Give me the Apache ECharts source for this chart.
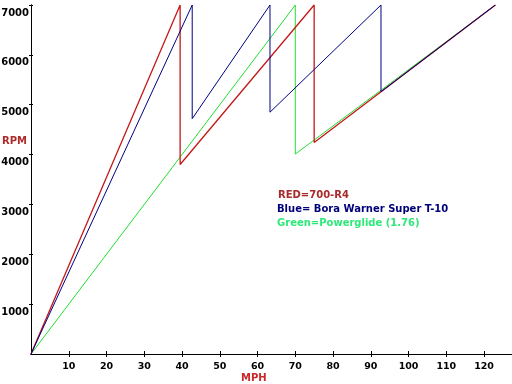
<!DOCTYPE html>
<html>
<head>
<meta charset="utf-8">
<script src="https://cdn.jsdelivr.net/npm/echarts@6/dist/echarts.min.js"></script>
<style>
html,body{margin:0;padding:0;background:#fff;}
#chart{width:512px;height:384px;}
</style>
</head>
<body>
<div id="chart"></div>
<script>
// Data
const redMph   = [0, 39.5, 39.5, 75, 75, 123];
const redRpm   = [0, 7000, 3800, 7000, 4240, 7000];
const blueMph  = [0, 42.7, 42.7, 63.3, 63.3, 92.7, 92.7, 123];
const blueRpm  = [0, 7000, 4720, 7000, 4850, 7000, 5260, 7000];
const greenMph = [0, 70, 70, 123];
const greenRpm = [0, 7000, 4010, 7000];
const xTicks = [10, 20, 30, 40, 50, 60, 70, 80, 90, 100, 110, 120];
const yTicks = [1000, 2000, 3000, 4000, 5000, 6000, 7000];
const legendLines = ['RED=700-R4', 'Blue= Bora Warner Super T-10', 'Green=Powerglide (1.76)'];

const pairs = (xs, ys) => xs.map((x, i) => [x, ys[i]]);

const chart = echarts.init(document.getElementById('chart'), null, {renderer: 'canvas'});

const FONT = 'DejaVu Sans';
const baseX = {
  type: 'value', min: 0, max: 127.4, interval: 10,
  axisLine: {show: true, onZero: false, lineStyle: {color: '#000', width: 1}},
  splitLine: {show: false}
};
const baseY = {
  type: 'value', min: 0, max: 7000, interval: 1000,
  axisLine: {show: true, onZero: false, lineStyle: {color: '#000', width: 1}},
  splitLine: {show: false}
};

chart.setOption({
  animation: false,
  backgroundColor: '#fff',
  grid: {left: 31, top: 5, right: 0, bottom: 30, containLabel: false, outerBoundsMode: 'none'},
  xAxis: [
    Object.assign({}, baseX, {
      position: 'bottom',
      axisTick: {show: true, inside: false, length: 3, lineStyle: {color: '#000'}, customValues: xTicks},
      axisLabel: {
        show: true, color: '#000', fontFamily: FONT, fontWeight: 'bold', fontSize: 9.5, margin: 8,
        customValues: xTicks,
        formatter: v => (v % 10 === 0 && v > 0) ? String(v) : ''
      }
    }),
    Object.assign({}, baseX, {
      position: 'bottom',
      axisTick: {show: true, inside: true, length: 3, lineStyle: {color: '#000'}, customValues: xTicks},
      axisLabel: {show: false}
    })
  ],
  yAxis: [
    Object.assign({}, baseY, {
      position: 'left',
      axisTick: {show: true, inside: false, length: 2, lineStyle: {color: '#000'}, customValues: yTicks},
      axisLabel: {
        show: true, color: '#000', fontFamily: FONT, fontWeight: 'bold', fontSize: 10, margin: 2,
        verticalAlign: 'top', padding: [3, 0, 0, 0],
        customValues: yTicks,
        formatter: v => v > 0 ? String(v) : ''
      }
    }),
    Object.assign({}, baseY, {
      position: 'left',
      axisTick: {show: true, inside: true, length: 2, lineStyle: {color: '#000'}, customValues: yTicks},
      axisLabel: {show: false}
    })
  ],
  graphic: [
    {type: 'text', left: 2, top: 136, style: {text: 'RPM', fill: '#b02a2a', font: 'bold 10px "DejaVu Sans"'}},
    {type: 'text', left: 241, top: 373, style: {text: 'MPH', fill: '#c8282a', font: 'bold 10px "DejaVu Sans"'}},
    {type: 'text', left: 278, top: 190, style: {text: legendLines[0], fill: '#a82a2a', font: 'bold 10px "DejaVu Sans"'}},
    {type: 'text', left: 277, top: 204, style: {text: legendLines[1], fill: '#00007a', font: 'bold 10px "DejaVu Sans"'}},
    {type: 'text', left: 277, top: 218, style: {text: legendLines[2], fill: '#2ee87a', font: 'bold 10px "DejaVu Sans"'}}
  ],
  series: [
    {type: 'line', data: pairs(greenMph, greenRpm), showSymbol: false, symbol: 'none',
     lineStyle: {color: '#22dd33', width: 1}, z: 2},
    {type: 'line', data: pairs(redMph, redRpm), showSymbol: false, symbol: 'none',
     lineStyle: {color: '#c41818', width: 1.3}, z: 3},
    {type: 'line', data: pairs(blueMph, blueRpm), showSymbol: false, symbol: 'none',
     lineStyle: {color: '#000080', width: 1}, z: 4}
  ]
});
</script>
</body>
</html>
